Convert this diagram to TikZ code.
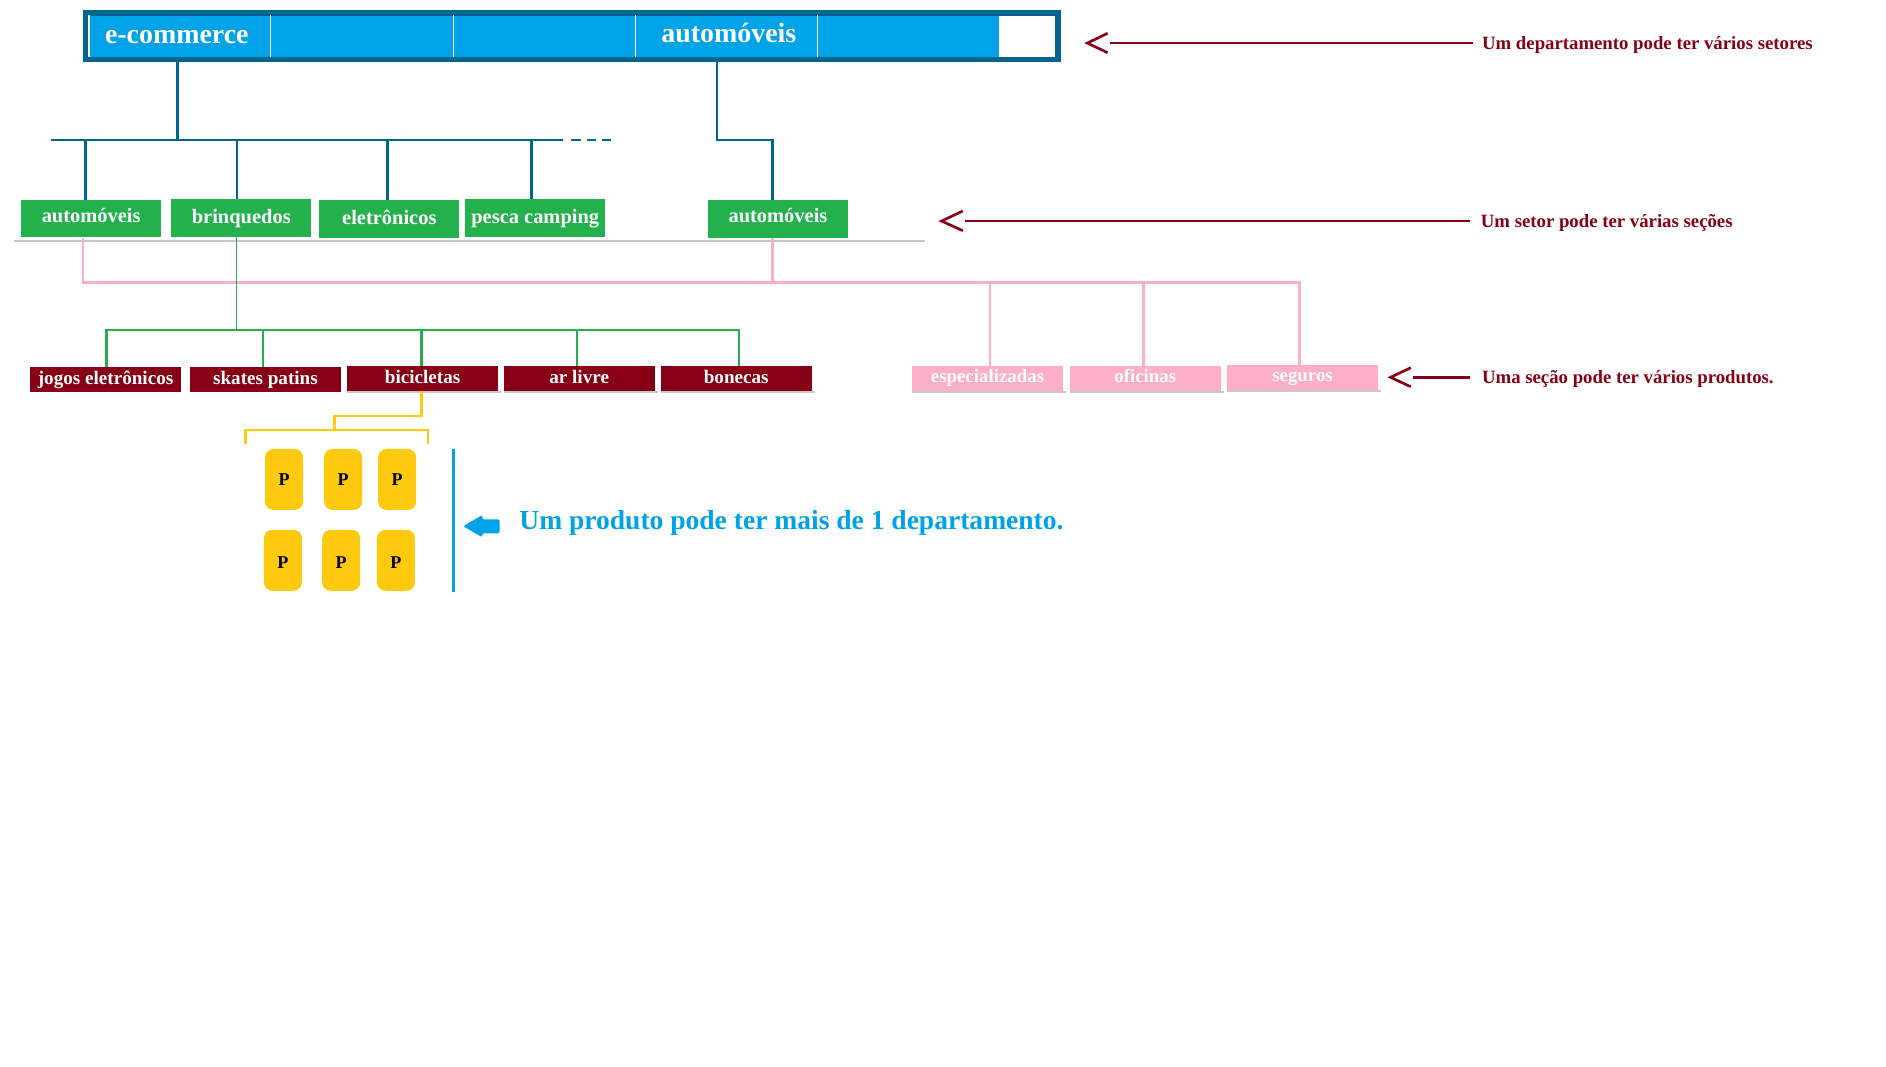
\documentclass[tikz,border=0pt]{standalone}
\usepackage{fontspec}
\setmainfont{Liberation Serif}
\usetikzlibrary{calc}
\definecolor{dblue}{RGB}{0,102,145}
\definecolor{bblue}{RGB}{0,162,232}
\definecolor{ggreen}{RGB}{34,177,76}
\definecolor{dred}{RGB}{136,0,21}
\definecolor{ppink}{RGB}{255,174,201}
\definecolor{yyellow}{RGB}{255,201,14}
\definecolor{lgray}{RGB}{200,200,200}
\tikzset{
  cell/.style={fill=bblue,minimum width=151.3,minimum height=34.1,inner sep=0},
  celltext/.style={text=white,inner sep=0,anchor=base,font=\fontsize{23.2}{26}\selectfont\bfseries},
  gbox/.style={fill=ggreen,minimum width=116.6,minimum height=31.2,inner sep=0,text height=13.3,text depth=3.3,text=white,font=\fontsize{17}{20}\selectfont\bfseries},
  gboxhi/.style={text height=9.3},
  rbox/.style={fill=dred,minimum width=125.4,minimum height=20.8,inner sep=0,text height=11.1,text depth=3.1,text=white,font=\fontsize{15.9}{18}\selectfont\bfseries},
  pbox/.style={fill=ppink,minimum width=125.2,minimum height=20.8,inner sep=0,text height=10.3,text depth=3.1,text=white,font=\fontsize{15.7}{18}\selectfont\bfseries},
  ybox/.style={fill=yyellow,rounded corners=7,minimum width=31.6,minimum height=50.7,inner sep=0,text height=10.2,text depth=0,text=black,font=\fontsize{15}{16}\selectfont\bfseries},
  yboxlow/.style={text height=13.4},
  note/.style={text=dred,inner sep=0,anchor=base west,font=\fontsize{15.6}{18}\selectfont\bfseries},
  dbl/.style={draw=dblue,line width=2.2},
  grl/.style={draw=ggreen,line width=1.9},
  pkl/.style={draw=ppink,line width=2.2},
  yel/.style={draw=yyellow,line width=2},
  redl/.style={draw=dred,line width=2.2},
  shadowl/.style={draw=lgray,line width=1.2},
}
\begin{document}
\begin{tikzpicture}[x=1pt,y=-1pt]
\useasboundingbox[fill=white] (0,0) rectangle (1568,887);

% top bar
\node[draw=dblue,fill=white,line width=4.7,minimum width=808.3,minimum height=38.8,inner sep=0] (bar) at (475.3,30.05) {};
\node[cell] (c1) at (149.25,30.05) {};
\node[cell] (c2) at (300.9,30.05) {};
\node[cell] (c3) at (452.6,30.05) {};
\node[cell] (c4) at (603.95,30.05) {};
\node[cell] (c5) at (754.75,30.05) {};
\node[celltext] (t1) at (147,36.5) {e-commerce};
\node[celltext] (t4) at (606,35) {automóveis};
\draw[white,line width=1] ([xshift=0.6pt]c1.north west) -- ([xshift=0.6pt]c1.south west);
\foreach \a/\b in {c1/c2,c2/c3,c3/c4,c4/c5}
  \draw[white,line width=1] (\a.north east) -- (\a.south east);

% sectors
\node[gbox,gboxhi] (s1) at (75.8,181.8) {automóveis};
\node[gbox] (s2) at (200.6,181.2) {brinquedos};
\node[gbox] (s3) at (323.7,182) {eletrônicos};
\node[gbox,text height=12.3] (s4) at (445,181.2) {pesca camping};
\node[gbox,gboxhi] (s5) at (646.8,182) {automóveis};

% dark blue connectors
\coordinate (busL) at (42,116.4);
\coordinate (busR) at (467.8,116.4);
\coordinate (j1) at (147.5,116.4);
\draw[dbl] (busL) -- (busR);
\draw[dblue,line width=2.2,dash pattern=on 8 off 5] ($(busR)+(7,0)$) -- ($(busR)+(40,0)$);
\draw[dbl] (j1 |- bar.south) -- (j1);
\draw[dbl] ([xshift=-4.8pt]s1.north |- busL) -- ([xshift=-4.8pt]s1.north);
\draw[dbl] ([xshift=-3.6pt]s2.north |- busL) -- ([xshift=-3.6pt]s2.north);
\draw[dbl] ([xshift=-1.7pt]s3.north |- busL) -- ([xshift=-1.7pt]s3.north);
\draw[dbl] ([xshift=-3pt]s4.north |- busL) -- ([xshift=-3pt]s4.north);
\coordinate (j2) at (596,116.4);
\draw[dbl] (j2 |- bar.south) -- (j2) -- ([xshift=-4.8pt]s5.north |- j2) -- ([xshift=-4.8pt]s5.north);

% gray separator
\draw[lgray,line width=1.1] (11.7,200.4) -- (768.7,200.4);

% sections
\node[rbox] (d1) at (87.75,315.5) {jogos eletrônicos};
\node[rbox] (d2) at (220.7,315.5) {skates patins};
\node[rbox] (d3) at (351.35,314.8) {bicicletas};
\node[rbox] (d4) at (481.5,314.8) {ar livre};
\node[rbox] (d5) at (612.1,314.8) {bonecas};
\node[pbox] (p1) at (821,314.6) {especializadas};
\node[pbox] (p2) at (952.2,314.6) {oficinas};
\node[pbox] (p3) at (1082.9,313.9) {seguros};
\foreach \n in {d3,d4,d5,p1,p2,p3}
  \draw[shadowl] ([yshift=-0.6pt]\n.south west) -- ([xshift=2.5pt,yshift=-0.6pt]\n.south east);

% pink connectors
\coordinate (pk) at (0,234.7);
\draw[pkl] ([xshift=-6.8pt]s1.south) -- ([xshift=-6.8pt]s1.south |- pk) -- ([xshift=-2.6pt]p3.north |- pk) -- ([xshift=-2.6pt]p3.north);
\draw[pkl] ([xshift=-4.8pt]s5.south) -- ([xshift=-4.8pt]s5.south |- pk);
\draw[pkl] ([xshift=2pt]p1.north |- pk) -- ([xshift=2pt]p1.north);
\draw[pkl] ([xshift=-1.6pt]p2.north |- pk) -- ([xshift=-1.6pt]p2.north);

% green connectors
\coordinate (gb) at (0,274.6);
\draw[ggreen,line width=0.9] ([xshift=-3.6pt]s2.south) -- ([xshift=-3.6pt]s2.south |- gb);
\draw[grl] ([xshift=0.85pt]d1.north) -- ([xshift=0.85pt]d1.north |- gb) -- ([xshift=2pt]d5.north |- gb) -- ([xshift=2pt]d5.north);
\draw[grl] ([xshift=-2pt]d2.north |- gb) -- ([xshift=-2pt]d2.north);
\draw[grl] ([xshift=-0.85pt]d3.north |- gb) -- ([xshift=-0.85pt]d3.north);
\draw[grl] ([xshift=-2pt]d4.north |- gb) -- ([xshift=-2pt]d4.north);

% products
\node[ybox] (y1) at (236.2,398.6) {P};
\node[ybox] (y2) at (285.3,398.6) {P};
\node[ybox] (y3) at (330.2,398.6) {P};
\node[ybox,yboxlow] (y4) at (235.2,465.8) {P};
\node[ybox,yboxlow] (y5) at (283.7,465.8) {P};
\node[ybox,yboxlow] (y6) at (329.2,465.8) {P};

% yellow connectors
\coordinate (yb) at (278.2,357.5);
\coordinate (ybL) at (204.2,357.5);
\coordinate (ybR) at (355.9,357.5);
\draw[yel] ([xshift=-1pt]d3.south) -- ([xshift=-1pt]d3.south |- 0,345.9) -- (yb |- 0,345.9) -- (yb);
\draw[yel] ($(ybL)+(0,12)$) -- (ybL) -- (ybR) -- ($(ybR)+(0,12)$);

% blue bar and arrow
\coordinate (vb1) at (376.9,373.6);
\coordinate (vb2) at (376.9,492);
\draw[bblue,line width=3] (vb1) -- (vb2);
\node[text=bblue,inner sep=0,anchor=base west,font=\fontsize{22.9}{26}\selectfont\bfseries] (bt) at (431.6,440.6) {Um produto pode ter mais de 1 departamento.};
\fill[bblue,rounded corners=1.2] (385,437.5) -- (401,428.2) -- (401,431.8) -- (415.3,431.8) -- (415.3,443.4) -- (401,443.4) -- (401,446.7) -- cycle;

% annotations
\node[note] (n1) at (1232,41) {Um departamento pode ter vários setores};
\node[note] (n2) at (1231,189.3) {Um setor pode ter várias seções};
\node[note] (n3) at (1232,318.7) {Uma seção pode ter vários produtos.};
\coordinate (a1) at (923,35.8);
\coordinate (a2) at (802,183.8);
\coordinate (a3) at (1175,313.7);
\draw[redl] (a1) -- (a1 -| 1225,0);
\draw[redl] (a2) -- (a2 -| 1222.5,0);
\draw[redl] (a3) -- (a3 -| 1222.5,0);
\draw[redl] (920.8,27.7) -- (904,35.8) -- (920.8,43.8);
\draw[redl] (800.5,175.4) -- (782.8,183.8) -- (800.5,191.8);
\draw[redl] (1172.9,305.7) -- (1156,313.7) -- (1172.9,321.5);
\end{tikzpicture}
\end{document}
